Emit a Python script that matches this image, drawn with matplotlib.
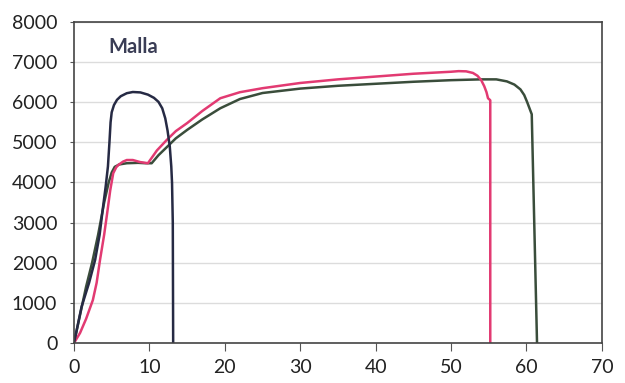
import matplotlib
matplotlib.use("Agg")
import matplotlib.pyplot as plt

# navy curve (short, high peak)
navy_x = [0, 1.0, 2.0, 2.8, 3.4, 3.85, 4.2, 4.5, 4.7, 4.85, 5.0, 5.3, 5.7, 6.2, 7.0, 7.8, 8.8, 9.8, 10.6, 11.2, 11.7, 12.1, 12.4, 12.7, 12.9, 13.0, 13.1, 13.15]
navy_y = [0, 900, 1500, 2070, 2700, 3390, 3900, 4400, 5000, 5500, 5750, 5930, 6060, 6150, 6225, 6255, 6245, 6190, 6110, 6010, 5850, 5600, 5300, 4900, 4400, 3990, 3000, 0]

# pink curve
pink_x = [0, 0.8, 1.6, 2.5, 3.0, 3.45, 4.0, 4.4, 4.8, 5.2, 5.6, 5.9, 6.5, 7.0, 7.8, 8.75, 9.8, 11.0, 12.3, 13.5, 15.0, 17.0, 19.4, 22, 25, 30, 35, 40, 45, 50, 51.0, 52.0, 52.9, 53.5, 54.0, 54.4, 54.7, 54.9, 55.2, 55.2]
pink_y = [0, 250, 600, 1070, 1500, 2070, 2700, 3240, 3800, 4230, 4380, 4440, 4520, 4560, 4560, 4510, 4480, 4800, 5060, 5280, 5480, 5780, 6100, 6250, 6350, 6480, 6570, 6640, 6710, 6760, 6775, 6770, 6730, 6660, 6550, 6400, 6250, 6100, 6050, 0]

# green curve
green_x = [0, 0.8, 1.6, 2.4, 3.2, 4.0, 4.6, 5.0, 5.4, 6.0, 7.0, 8.5, 9.5, 10.3, 11.2, 12.3, 13.5, 15.0, 17.0, 19.4, 22, 25, 30, 35, 40, 45, 50, 54, 56, 57.4, 58.4, 59.2, 59.7, 60.1, 60.4, 60.7, 61.4]
green_y = [0, 700, 1400, 2000, 2700, 3500, 4000, 4250, 4390, 4450, 4480, 4490, 4480, 4480, 4680, 4880, 5100, 5310, 5570, 5850, 6080, 6230, 6340, 6410, 6460, 6510, 6550, 6570, 6570, 6520, 6440, 6320, 6180, 6000, 5850, 5700, 0]

x_ticks = [0, 10, 20, 30, 40, 50, 60, 70]
y_ticks = [0, 1000, 2000, 3000, 4000, 5000, 6000, 7000, 8000]

NAVY, PINK, GREEN = "#262a44", "#e23a72", "#3a4d3b"

plt.rcParams["font.family"] = ["Lato", "DejaVu Sans"]
fig = plt.figure(figsize=(6.25, 3.83), dpi=100)
ax = fig.add_axes([0.1184, 0.1044, 0.8446, 0.8382])

ax.plot(green_x, green_y, color=GREEN, lw=1.8, solid_joinstyle="round")
ax.plot(pink_x, pink_y, color=PINK, lw=1.8, solid_joinstyle="round")
ax.plot(navy_x, navy_y, color=NAVY, lw=1.8, solid_joinstyle="round")

ax.set_xlim(0, 70)
ax.set_ylim(0, 8000)
ax.set_xticks(x_ticks)
ax.set_yticks(y_ticks)
ax.grid(axis="y", color="#dcdcdc", lw=1)
ax.set_axisbelow(True)
for s in ax.spines.values():
    s.set_color("#444444")
    s.set_linewidth(1.2)
ax.tick_params(axis="both", color="#555555", labelsize=14, labelcolor="#222222")
ax.tick_params(axis="y", length=3, pad=9)
ax.tick_params(axis="x", length=5.5, pad=6)

ax.text(4.5, 7370, "Malla", fontsize=14.5, fontweight="bold", color="#3a3d55", ha="left", va="center")

fig.savefig("out.png", dpi=100)
